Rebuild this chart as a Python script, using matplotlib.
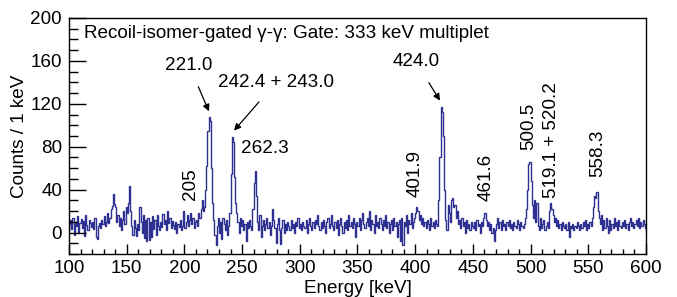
import numpy as np
import matplotlib
matplotlib.use("Agg")
import matplotlib.pyplot as plt
from matplotlib.ticker import MultipleLocator

plt.rcParams['font.family'] = ['Liberation Sans', 'DejaVu Sans']

# 1 keV bins, 100..600 keV
edges = np.arange(100, 601, 1)
counts = [
    8, 12, 3, 14, -2, 10, 6, 15, 0, 9,
    13, 4, 11, -3, 16, 7, 2, 12, 9, 5,
    10, 3, 14, -4, -6, 6, 9, 4, 12, 8,
    15, 6, 10, 18, 9, 14, 22, 25, 36, 27,
    24, 10, 16, 6, 14, 2, 12, 20, 8, 24,
    18, 28, 43, 20, 6, -2, 12, 4, -3, 8,
    2, 24, 10, 0, 16, -5, 12, -8, 14, -7,
    10, -4, 15, 3, 12, -2, 16, 6, 2, 10,
    5, 17, 8, 12, 2, 20, 9, 14, 4, 11,
    7, 3, 10, 0, 8, 5, 12, 2, 6, 20,
    4, 10, 16, 6, 12, 18, 8, 14, 4, 10,
    12, 6, 18, 14, 22, 30, 20, 24, 40, 62,
    95, 108, 104, 60, 28, 12, -2, -12, 6, 14,
    0, 10, -6, 14, 8, 2, 12, -2, 6, 18,
    55, 89, 84, 52, 28, 18, 10, 0, 14, 6,
    12, 2, 8, -8, 10, 4, 12, 6, 2, 22,
    46, 57, 34, 10, 2, 16, -4, 6, 12, 2,
    8, 14, 4, 10, -2, 6, 22, 12, 4, -10,
    8, 14, 2, -11, 4, 12, 0, 8, 2, 10,
    6, 2, 12, 4, 8, 0, 10, 6, 14, 4,
    8, 2, 10, 6, 4, 12, 0, 8, 14, 6,
    2, 10, 4, 12, 8, 16, 6, 2, 10, 4,
    12, 6, 0, 10, 14, 4, 8, 16, 6, 2,
    10, 4, 12, -2, 8, 14, 6, 0, 10, 4,
    12, 2, 16, 6, 10, 4, 14, 8, -4, 10,
    6, 14, 2, 12, 18, 8, 4, 10, 14, 6,
    20, 2, 12, 8, 0, 16, 6, 10, 4, 14,
    8, 2, 12, 6, 16, 4, 10, 0, 8, 12,
    2, 14, 6, 10, -4, 8, 12, -8, 14, -12,
    10, 6, 16, 0, 12, 8, 18, 4, 10, 14,
    18, 24, 20, 12, 16, 8, 14, 6, 10, 4,
    12, 8, 2, 14, 6, 10, 4, 12, 8, 6,
    30, 70, 117, 112, 90, 40, 12, 2, 26, 18,
    10, 30, 32, 24, 26, 14, 20, 8, 12, 4,
    14, 6, 10, 0, 12, 4, 8, 2, 10, 6,
    4, 10, 2, 12, 6, 8, 0, 10, 6, 14,
    18, 12, 6, 10, 2, 8, 0, 4, -8, 2,
    8, 14, 4, 10, 2, 12, 6, 8, 2, 10,
    6, 12, 4, 8, 2, 10, 6, 4, 12, 8,
    2, 10, 6, 4, 8, 14, 22, 40, 64, 66,
    48, 26, 14, 30, 10, 28, 6, 2, 14, 4,
    8, 12, 2, 6, 10, 4, 20, 28, 22, 16,
    10, 14, 6, 12, 4, 8, 2, 10, 6, 4,
    8, 2, 10, -4, 6, 4, 8, 2, 6, 4,
    10, 6, 2, 8, 4, 10, 6, 12, 2, 8,
    4, 10, 6, 14, 24, 34, 32, 38, 20, 14,
    8, 16, 2, 12, 4, 14, 6, 0, 12, 2,
    8, 4, 14, 6, 10, 2, 12, 6, 4, 10,
    6, 12, 4, 8, 2, 10, 14, 6, 10, 4,
    8, 12, 6, 14, 4, 10, 6, 12, 8, 4,
]

# peak labels: (text, x, y, rotation)
plain_labels = [
    ("262.3", 269.8, 78, 0),
    ("205", 204.9, 45, 90),
    ("401.9", 399.8, 55, 90),
    ("461.6", 461.4, 51, 90),
    ("500.5", 498.6, 99, 90),
    ("519.1 + 520.2", 517.7, 86, 90),
    ("558.3", 558.4, 74, 90),
]
# arrowed labels: (text, text x, text y, tip x, tip y)
arrow_labels = [
    ("221.0", 204, 156, 221.3, 113),
    ("242.4 + 243.0", 279.4, 140, 243.0, 95),
    ("424.0", 400.7, 159, 421.5, 123),
]

FS = 13.6

fig = plt.figure(figsize=(6.77, 2.97), dpi=100)
ax = fig.add_axes([0.1019, 0.1448, 0.8523, 0.7946])

ax.stairs(counts, edges, color='#2e3192', linewidth=1.0)

ax.set_xlim(100, 600)
ax.set_ylim(-20, 200)
ax.xaxis.set_major_locator(MultipleLocator(50))
ax.xaxis.set_minor_locator(MultipleLocator(10))
ax.yaxis.set_major_locator(MultipleLocator(40))
ax.yaxis.set_minor_locator(MultipleLocator(10))
ax.tick_params(axis='both', which='both', direction='in', labelsize=FS, width=1)
ax.tick_params(axis='y', which='major', length=12, pad=5)
ax.tick_params(axis='y', which='minor', length=6.5)
ax.tick_params(axis='x', which='major', length=7.5, pad=4)
ax.tick_params(axis='x', which='minor', length=3.8)
for s in ax.spines.values():
    s.set_linewidth(1)

ax.set_xlabel("Energy [keV]", fontsize=FS, va='center')
ax.xaxis.set_label_coords(0.5, -0.145)
ax.set_ylabel("Counts / 1 keV", fontsize=FS, va='center')
ax.yaxis.set_label_coords(-0.085, 0.5)

ax.text(0.026, 0.935, "Recoil-isomer-gated γ-γ: Gate: 333 keV multiplet",
        transform=ax.transAxes, fontsize=FS, ha='left', va='center')

for txt, x, y, rot in plain_labels:
    ax.text(x, y, txt, fontsize=FS, rotation=rot, ha='center', va='center')

for txt, tx, ty, px, py in arrow_labels:
    ax.annotate(txt, xy=(px, py), xytext=(tx, ty), fontsize=FS,
                ha='center', va='center',
                arrowprops=dict(arrowstyle='-|>', color='black', lw=0.9,
                                shrinkA=8, shrinkB=0, mutation_scale=10))

fig.savefig("out.png", dpi=100)
